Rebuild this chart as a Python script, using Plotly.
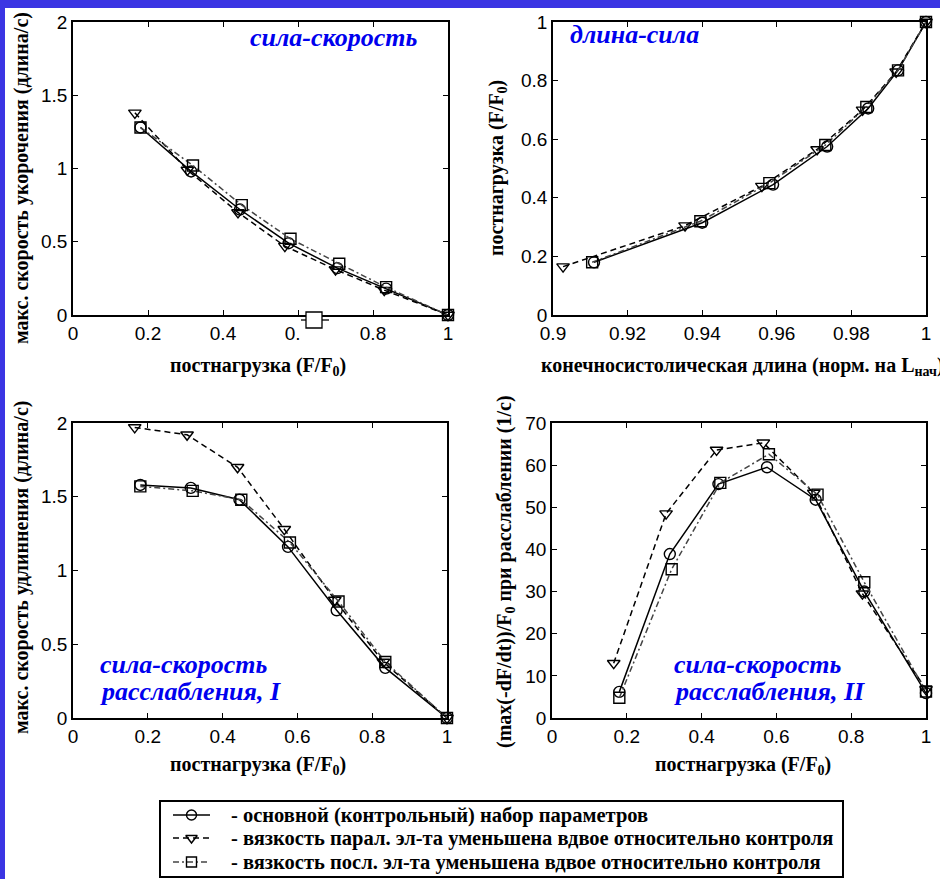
import plotly.graph_objects as go

W, H = 940, 879

# ---------------- data ----------------
# afterload (F/F0) used for each series
load_ctrl = [0.18, 0.315, 0.445, 0.575, 0.705, 0.835, 1.0]
load_par = [0.165, 0.305, 0.44, 0.565, 0.70, 0.83, 1.0]
load_ser = [0.18, 0.32, 0.45, 0.58, 0.71, 0.835, 1.0]

# panel 1: max shortening velocity (length/s)
vshort_ctrl = [1.28, 0.98, 0.72, 0.49, 0.32, 0.18, 0.0]
vshort_par = [1.38, 0.99, 0.70, 0.47, 0.31, 0.17, 0.0]
vshort_ser = [1.28, 1.02, 0.75, 0.52, 0.35, 0.19, 0.0]

# panel 2: end-systolic length (norm. to L_init)
len_ctrl = [0.911, 0.940, 0.959, 0.9735, 0.9845, 0.9925, 1.0]
len_par = [0.9027, 0.9354, 0.956, 0.9708, 0.983, 0.992, 1.0]
len_ser = [0.9105, 0.9395, 0.958, 0.973, 0.984, 0.9925, 1.0]

# panel 3: max lengthening velocity (length/s)
vlen_ctrl = [1.58, 1.56, 1.48, 1.16, 0.73, 0.34, 0.0]
vlen_par = [1.97, 1.92, 1.70, 1.28, 0.80, 0.38, 0.0]
vlen_ser = [1.57, 1.54, 1.48, 1.19, 0.79, 0.38, 0.0]

# panel 4: (max(-dF/dt))/F0 during relaxation (1/s)
dfdt_ctrl = [6.2, 38.9, 55.5, 59.5, 51.8, 30.0, 5.9]
dfdt_par = [13.0, 48.5, 63.6, 65.3, 53.4, 29.5, 6.8]
dfdt_ser = [4.8, 35.3, 55.8, 62.6, 53.0, 32.2, 6.3]

legend_names = [
    "- основной (контрольный) набор параметров",
    "- вязкость парал. эл-та уменьшена вдвое относительно контроля",
    "- вязкость посл. эл-та уменьшена вдвое относительно контроля",
]

x_ticks_load = [0, 0.2, 0.4, 0.6, 0.8, 1]
x_ticks_len = [0.9, 0.92, 0.94, 0.96, 0.98, 1]
y_ticks_v = [0, 0.5, 1, 1.5, 2]
y_ticks_f = [0, 0.2, 0.4, 0.6, 0.8, 1]
y_ticks_d = [0, 10, 20, 30, 40, 50, 60, 70]

# ---------------- styles ----------------
styles = [
    dict(symbol="circle-open", dash="solid", color="black"),
    dict(symbol="triangle-down-open", dash="6px,4px", color="black"),
    dict(symbol="square-open", dash="6px,3px,2px,3px", color="#444444"),
]


def px(x):
    return x / W


def py(y):
    return 1 - y / H


fig = go.Figure()

panels = [
    ("x", "y", [(load_ctrl, vshort_ctrl), (load_par, vshort_par), (load_ser, vshort_ser)]),
    ("x2", "y2", [(len_ctrl, load_ctrl), (len_par, load_par), (len_ser, load_ser)]),
    ("x3", "y3", [(load_ctrl, vlen_ctrl), (load_par, vlen_par), (load_ser, vlen_ser)]),
    ("x4", "y4", [(load_ctrl, dfdt_ctrl), (load_par, dfdt_par), (load_ser, dfdt_ser)]),
]

for pi, (xa, ya, series) in enumerate(panels):
    for si, (xs, ys) in enumerate(series):
        st = styles[si]
        fig.add_trace(go.Scatter(
            x=xs, y=ys, xaxis=xa, yaxis=ya,
            mode="lines+markers",
            name=legend_names[si],
            showlegend=False,
            cliponaxis=False,
            line=dict(color=st["color"], width=1.5, dash=st["dash"]),
            marker=dict(symbol=st["symbol"], size=11, color="black",
                        line=dict(color="black", width=1.4)),
        ))

# ---------------- hand-made legend (box at the bottom) ----------------
LEG = dict(x0=160, x1=843, y0=801, y1=877)          # pixel box
leg_rows = [815, 838, 862]                           # row centres (px)
leg_sym = (173, 210)                                 # symbol line span (px)
for si, name in enumerate(legend_names):
    st = styles[si]
    yrow = leg_rows[si]
    fig.add_trace(go.Scatter(
        x=[leg_sym[0], leg_sym[1]], y=[yrow, yrow], xaxis="x5", yaxis="y5",
        mode="lines", showlegend=False, hoverinfo="skip", cliponaxis=False,
        line=dict(color=st["color"], width=1.5, dash=st["dash"]),
    ))
    fig.add_trace(go.Scatter(
        x=[(leg_sym[0] + leg_sym[1]) / 2], y=[yrow], xaxis="x5", yaxis="y5",
        mode="markers", showlegend=False, hoverinfo="skip", cliponaxis=False,
        marker=dict(symbol=st["symbol"], size=10, color="black",
                    line=dict(color="black", width=1.4)),
    ))

tickfont = dict(family="Liberation Sans, Arial, sans-serif", size=19, color="black")


def axis(domain, rng, tickvals):
    return dict(
        domain=domain, range=rng, tickmode="array", tickvals=tickvals,
        showline=True, linecolor="black", linewidth=1.5, mirror="ticks",
        ticks="inside", ticklen=5, tickwidth=1, tickcolor="black",
        showgrid=False, zeroline=False, tickfont=tickfont, automargin=False,
    )


boxes = {
    1: (73, 448, 22, 315),
    2: (553, 926, 22, 315),
    3: (73, 447, 423, 718),
    4: (552, 926, 423, 718),
}


def xdom(k):
    b = boxes[k]
    return [px(b[0]), px(b[1])]


def ydom(k):
    b = boxes[k]
    return [py(b[3]), py(b[2])]


fig.update_layout(
    width=W, height=H,
    margin=dict(l=0, r=0, t=0, b=0, pad=0),
    paper_bgcolor="#3b35e3",
    plot_bgcolor="rgba(0,0,0,0)",
    showlegend=False,
    xaxis=dict(axis(xdom(1), [0, 1], x_ticks_load), anchor="y"),
    yaxis=dict(axis(ydom(1), [0, 2], y_ticks_v), anchor="x"),
    xaxis2=dict(axis(xdom(2), [0.9, 1], x_ticks_len), anchor="y2"),
    yaxis2=dict(axis(ydom(2), [0, 1], y_ticks_f), anchor="x2"),
    xaxis3=dict(axis(xdom(3), [0, 1], x_ticks_load), anchor="y3"),
    yaxis3=dict(axis(ydom(3), [0, 2], y_ticks_v), anchor="x3"),
    xaxis4=dict(axis(xdom(4), [0, 1], x_ticks_load), anchor="y4"),
    yaxis4=dict(axis(ydom(4), [0, 70], y_ticks_d), anchor="x4"),
    xaxis5=dict(domain=[px(LEG["x0"]), px(LEG["x1"])], range=[LEG["x0"], LEG["x1"]],
                visible=False, fixedrange=True, anchor="y5", automargin=False),
    yaxis5=dict(domain=[py(LEG["y1"]), py(LEG["y0"])], range=[LEG["y1"], LEG["y0"]],
                visible=False, fixedrange=True, anchor="x5", automargin=False),
)

shapes = [
    # white sheet over the blue background
    dict(type="rect", xref="paper", yref="paper", x0=px(5), x1=1.0, y0=0.0, y1=py(8),
         fillcolor="white", line=dict(width=0), layer="below"),
    # legend frame
    dict(type="rect", xref="paper", yref="paper", x0=px(LEG["x0"]), x1=px(LEG["x1"]),
         y0=py(LEG["y1"]), y1=py(LEG["y0"]),
         fillcolor="white", line=dict(color="black", width=2), layer="below"),
    # stray legend-like marker over the 0.6 tick label (panel 1)
    dict(type="rect", xref="paper", yref="paper", x0=px(301), x1=px(331), y0=py(346), y1=py(323),
         fillcolor="white", line=dict(width=0), layer="above"),
    dict(type="line", xref="paper", yref="paper", x0=px(301), x1=px(329), y0=py(320), y1=py(320),
         line=dict(color="black", width=1.3), layer="above"),
    dict(type="rect", xref="paper", yref="paper", x0=px(306), x1=px(322), y0=py(328), y1=py(312),
         fillcolor="white", line=dict(color="black", width=1.3), layer="above"),
]
fig.update_layout(shapes=shapes)

serif = "Liberation Serif, Times New Roman, serif"
title_font = dict(family=serif, size=20, color="black", weight="bold")
legend_font = dict(family=serif, size=20.5, color="black", weight="bold")
label_font = dict(family=serif, size=26, color="#0000ee", weight="bold", style="italic")

ann = []


def add_text(x, y, text, font, angle=0, xanchor="center", yanchor="middle", align="center"):
    ann.append(dict(xref="paper", yref="paper", x=px(x), y=py(y), text=text,
                    showarrow=False, font=font, textangle=angle,
                    xanchor=xanchor, yanchor=yanchor, align=align))


# axis titles
add_text(258, 367, "постнагрузка (F/F<sub>0</sub>)", title_font)
add_text(742, 367, "конечносистолическая длина (норм. на L<sub>нач</sub>)", title_font)
add_text(258, 765, "постнагрузка (F/F<sub>0</sub>)", title_font)
add_text(743, 765, "постнагрузка (F/F<sub>0</sub>)", title_font)
add_text(21, 178, "макс. скорость укорочения (длина/с)", title_font, angle=-90)
add_text(498, 168, "постнагрузка (F/F<sub>0</sub>)", title_font, angle=-90)
add_text(21, 568, "макс. скорость удлиннения (длина/с)", title_font, angle=-90)
add_text(505, 572, "(max(-dF/dt))/F<sub>0</sub> при расслаблении (1/с)", title_font, angle=-90)

# panel labels
add_text(333, 37, "сила-скорость", label_font)
add_text(634, 34, "длина-сила", label_font)
add_text(98, 664, "сила-скорость", label_font, xanchor="left")
add_text(98, 691, "расслабления, I", label_font, xanchor="left")
add_text(672, 664, "сила-скорость", label_font, xanchor="left")
add_text(672, 691, "расслабления, II", label_font, xanchor="left")

# legend texts
for si, name in enumerate(legend_names):
    add_text(229, leg_rows[si], name, legend_font, xanchor="left")

fig.update_layout(annotations=ann)

fig.write_html("out.html")
